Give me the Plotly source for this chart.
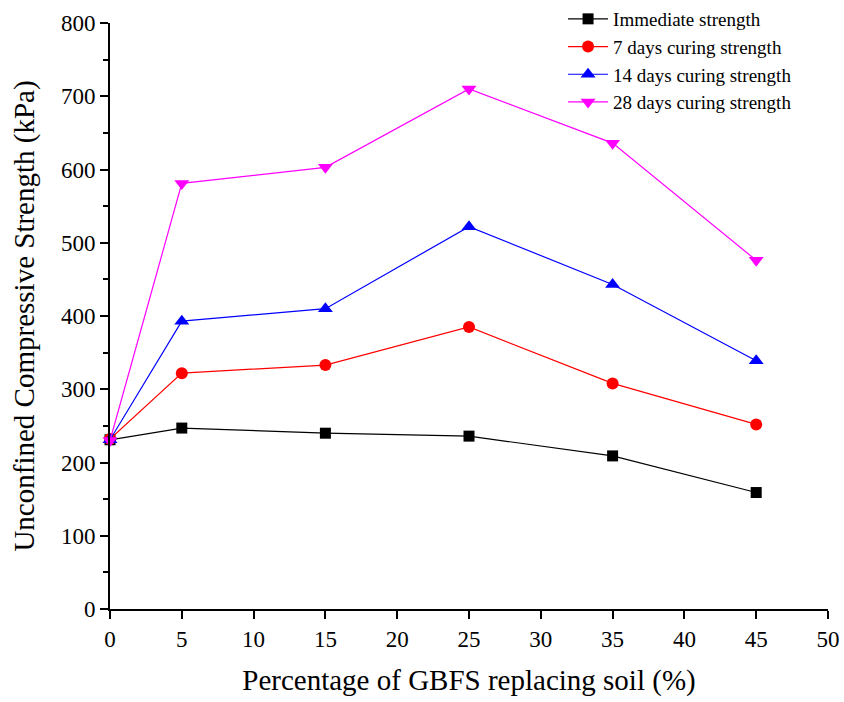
import plotly.graph_objects as go

x_vals = [0, 5, 15, 25, 35, 45]
immediate = [231, 247, 240, 236, 209, 159]
day7 = [232, 322, 333, 385, 308, 252]
day14 = [231, 393, 410, 522, 443, 339]
day28 = [230, 581, 603, 710, 636, 476]

names = ["Immediate strength", "7 days curing strength",
         "14 days curing strength", "28 days curing strength"]
series = [immediate, day7, day14, day28]
colors = ["#000000", "#ff0000", "#0000ff", "#ff00ff"]
symbols = ["square", "circle", "triangle-up", "triangle-down"]
sizes = [11, 12, 13, 13]

fig = go.Figure()
for n, s, c, sym, sz in zip(names, series, colors, symbols, sizes):
    fig.add_trace(go.Scatter(
        x=x_vals, y=s, name=n, mode="lines+markers",
        line=dict(color=c, width=1.2),
        marker=dict(symbol=sym, size=sz, color=c),
        cliponaxis=False,
    ))

font_family = "Liberation Serif"
fig.update_layout(
    width=844, height=702,
    margin=dict(l=110, r=16, t=23, b=93, autoexpand=False),
    paper_bgcolor="white", plot_bgcolor="white",
    font=dict(family=font_family, color="black"),
    showlegend=True,
    legend=dict(x=0.631, y=1.0, xanchor="left", yanchor="top",
                xref="paper", yref="container",
                font=dict(size=19, family=font_family),
                bgcolor="rgba(0,0,0,0)", tracegroupgap=0, itemwidth=40),
)
fig.update_xaxes(
    range=[0, 50], tickvals=list(range(0, 51, 5)),
    showline=True, linecolor="black", linewidth=2,
    ticks="outside", ticklen=8, tickwidth=2, tickcolor="black",
    showgrid=False, zeroline=False, mirror=False, automargin=False,
    tickfont=dict(size=23, family=font_family),
    title=dict(text="Percentage of GBFS replacing soil (%)",
               font=dict(size=29, family=font_family), standoff=19),
)
fig.update_yaxes(
    range=[0, 800], tickvals=list(range(0, 801, 100)),
    showline=True, linecolor="black", linewidth=2,
    ticks="outside", ticklen=8, tickwidth=2, tickcolor="black",
    minor=dict(ticks="outside", ticklen=5, tickwidth=2, tickcolor="black", dtick=50),
    showgrid=False, zeroline=False, mirror=False, automargin=False,
    tickfont=dict(size=23, family=font_family),
    title=dict(text="Unconfined Compressive Strength (kPa)",
               font=dict(size=29, family=font_family), standoff=18),
)

fig.write_html("out.html")
